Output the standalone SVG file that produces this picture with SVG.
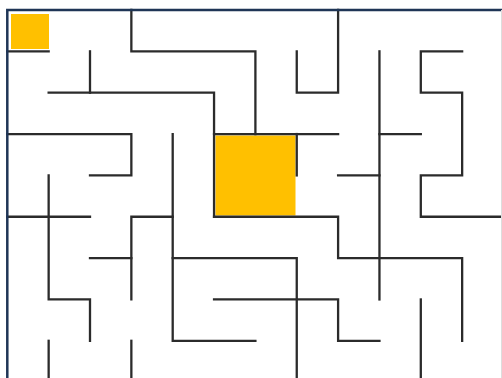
<svg xmlns="http://www.w3.org/2000/svg" width="502" height="378" viewBox="0 0 502 378">
<style>
.w{fill:none;stroke:#2b2b2b;stroke-width:2.3;stroke-linecap:square;stroke-linejoin:miter}
.b{fill:none;stroke:#1F3556;stroke-width:2.5;stroke-linecap:square}
.g{fill:#FFC000}
</style>
<rect width="502" height="378" fill="#ffffff"/>
<g id="start"><rect class="g" x="11" y="14" width="38" height="35"/></g>
<g id="goal"><rect class="g" x="215.5" y="135.5" width="80" height="80"/></g>
<g id="walls">
<path class="w" d="M7.3 51.35H48.65"/>
<path class="w" d="M131.35 10V51.35H255.4V134.05"/>
<path class="w" d="M90 51.35V92.7"/>
<path class="w" d="M48.65 92.7H214.05V216.75"/>
<path class="w" d="M7.3 134.05H131.35V175.4H90"/>
<path class="w" d="M172.7 134.05V340.8H255.4"/>
<path class="w" d="M48.65 175.4V299.45H90V340.8"/>
<path class="w" d="M7.3 216.75H90"/>
<path class="w" d="M172.7 216.75H131.35V299.45"/>
<path class="w" d="M90 258.1H131.35"/>
<path class="w" d="M214.05 134.05H338.1"/>
<path class="w" d="M296.75 134.05V175.4"/>
<path class="w" d="M338.1 10V92.7H296.75V51.35"/>
<path class="w" d="M379.45 51.35V299.45"/>
<path class="w" d="M379.45 134.05H420.8"/>
<path class="w" d="M338.1 175.4H379.45"/>
<path class="w" d="M462.15 51.35H420.8V92.7H462.15V175.4H420.8V216.75H502"/>
<path class="w" d="M214.05 216.75H338.1V258.1H462.15V340.8"/>
<path class="w" d="M172.7 258.1H296.75V380"/>
<path class="w" d="M214.05 299.45H338.1V340.8H379.45"/>
<path class="w" d="M420.8 299.45V380"/>
<path class="w" d="M48.65 340.8V380"/>
<path class="w" d="M131.35 340.8V380"/>
</g>
<g id="border">
<path class="b" d="M7.3 380V10H502"/>
<path d="M501.5 10V378" stroke="#dddddd" stroke-width="1" fill="none"/>
</g>
</svg>
